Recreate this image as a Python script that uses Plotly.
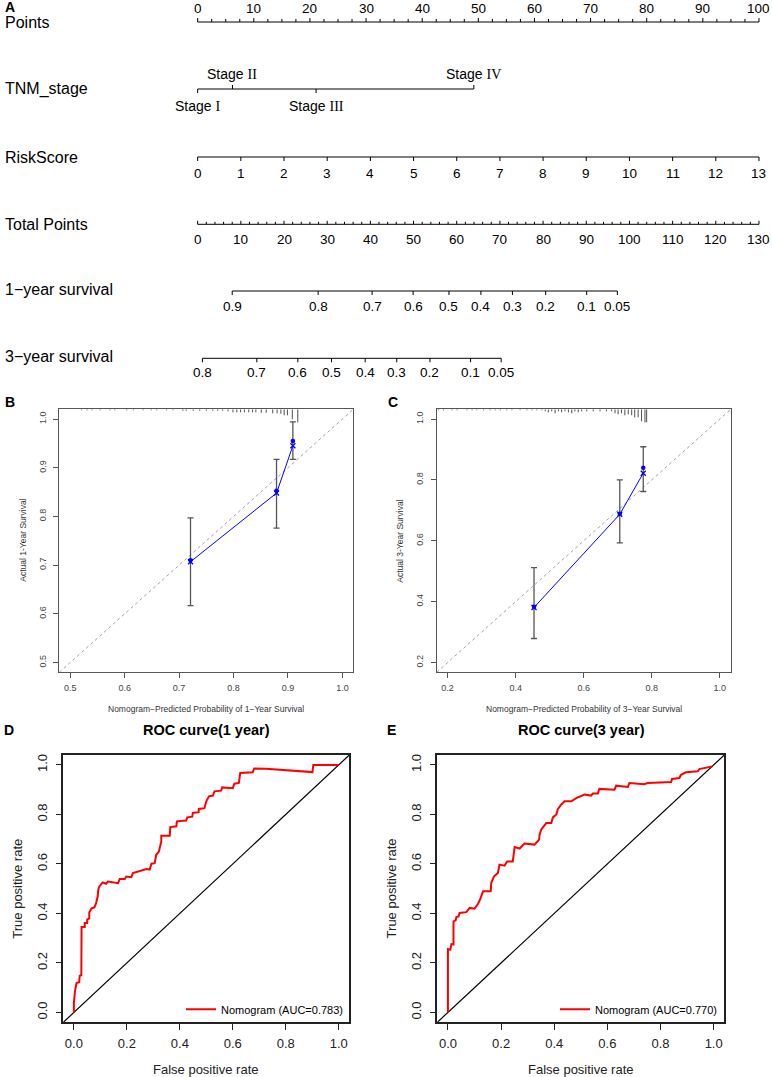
import numpy as np
import plotly.graph_objects as go

W, H = 772, 1077
SANS = "Liberation Sans, Arial, Helvetica, sans-serif"
SERIF_NAME = "Liberation Serif"


def px(x):
    return x / W


def py(y):
    return 1 - y / H


# ---------------- Panel A: nomogram data ----------------
points_labels = [0, 10, 20, 30, 40, 50, 60, 70, 80, 90, 100]
stage_names = ["I", "II", "III", "IV"]
stage_points = [0, 6.2, 21.1, 49.2]
riskscore_labels = [0, 1, 2, 3, 4, 5, 6, 7, 8, 9, 10, 11, 12, 13]
total_points_labels = [0, 10, 20, 30, 40, 50, 60, 70, 80, 90, 100, 110, 120, 130]
surv1_labels = ["0.9", "0.8", "0.7", "0.6", "0.5", "0.4", "0.3", "0.2", "0.1", "0.05"]
surv1_total = [8.0, 27.9, 40.4, 49.9, 58.2, 65.6, 72.9, 80.6, 90.1, 97.2]
surv3_labels = ["0.8", "0.7", "0.6", "0.5", "0.4", "0.3", "0.2", "0.1", "0.05"]
surv3_total = [1.1, 13.7, 23.2, 31.0, 38.8, 46.1, 53.8, 63.2, 70.3]
row_names = ["Points", "TNM_stage", "RiskScore", "Total Points",
             "1\u2212year survival", "3\u2212year survival"]

# ---------------- Panel B / C: calibration data ----------------
cal1_ticks = [0.5, 0.6, 0.7, 0.8, 0.9, 1.0]
cal1_pred = [0.721, 0.879, 0.909]
cal1_obs = [0.710, 0.853, 0.955]
cal1_corr = [0.707, 0.848, 0.945]
cal1_lo = [0.617, 0.776, 0.917]
cal1_hi = [0.797, 0.917, 0.994]
rug1_x = [0.521, 0.531, 0.540, 0.555, 0.573, 0.582, 0.604, 0.616, 0.634, 0.649,
          0.659, 0.677, 0.689, 0.707, 0.713, 0.726, 0.738, 0.750, 0.762, 0.771,
          0.780, 0.790, 0.799, 0.806, 0.813, 0.820, 0.828, 0.835, 0.841, 0.851,
          0.860, 0.872, 0.880, 0.887, 0.893, 0.899, 0.908, 0.918]
rug1_n = [1, 1, 1, 1, 1, 1, 1, 1, 1, 1,
          1, 1, 1, 1.5, 1.5, 1.5, 1.5, 1.5, 1.5, 1.5,
          1.5, 2, 3, 3, 3, 3, 3, 3, 3, 3.5,
          3.5, 4, 4, 4.5, 6, 6, 10, 13]

cal3_ticks = [0.2, 0.4, 0.6, 0.8, 1.0]
cal3_pred = [0.454, 0.706, 0.775]
cal3_obs = [0.383, 0.689, 0.840]
cal3_corr = [0.381, 0.687, 0.822]
cal3_lo = [0.279, 0.593, 0.762]
cal3_hi = [0.512, 0.800, 0.909]
rug3_x = [0.174, 0.188, 0.213, 0.228, 0.257, 0.272, 0.286, 0.306, 0.325, 0.340,
          0.355, 0.374, 0.389, 0.413, 0.433, 0.448, 0.462, 0.477, 0.487, 0.496,
          0.506, 0.516, 0.526, 0.535, 0.545, 0.555, 0.565, 0.574, 0.584, 0.594,
          0.609, 0.628, 0.648, 0.667, 0.682, 0.692, 0.701, 0.711, 0.721, 0.731,
          0.741, 0.750, 0.760, 0.770, 0.780, 0.785]
rug3_n = [1, 1, 1, 1, 1, 1, 1, 1, 1, 1,
          1, 1, 1, 1, 1, 1, 1, 1, 2, 3,
          2, 4, 2, 3, 2, 3, 4, 2, 3, 2,
          2, 2, 2, 2, 2, 4, 5, 4, 6, 5,
          6, 8, 8, 12, 13, 13]

# ---------------- Panel D / E: ROC data ----------------
roc_ticks = [0.0, 0.2, 0.4, 0.6, 0.8, 1.0]
roc1_fpr = [0, 0.0, 0.004, 0.010, 0.020, 0.022, 0.028, 0.028, 0.030, 0.029,
            0.041, 0.041, 0.050, 0.050, 0.058, 0.058, 0.066, 0.078, 0.084, 0.090,
            0.092, 0.096, 0.109, 0.122, 0.129, 0.167, 0.173, 0.192, 0.198, 0.217,
            0.223, 0.248, 0.261, 0.274, 0.286, 0.293, 0.305, 0.311, 0.321, 0.330,
            0.330, 0.362, 0.364, 0.387, 0.389, 0.424, 0.428, 0.447, 0.449, 0.471,
            0.472, 0.493, 0.500, 0.510, 0.525, 0.531, 0.556, 0.560, 0.600, 0.606,
            0.623, 0.628, 0.675, 0.681, 0.725, 0.901, 0.904, 1.0]
roc1_tpr = [0, 0.038, 0.085, 0.119, 0.122, 0.148, 0.150, 0.186, 0.190, 0.345,
            0.345, 0.361, 0.361, 0.375, 0.380, 0.404, 0.420, 0.425, 0.442, 0.469,
            0.496, 0.509, 0.525, 0.520, 0.529, 0.522, 0.539, 0.539, 0.549, 0.546,
            0.563, 0.570, 0.574, 0.579, 0.577, 0.601, 0.603, 0.637, 0.650, 0.691,
            0.714, 0.714, 0.749, 0.752, 0.772, 0.775, 0.788, 0.791, 0.806, 0.809,
            0.822, 0.825, 0.853, 0.873, 0.876, 0.893, 0.896, 0.909, 0.906, 0.924,
            0.927, 0.967, 0.970, 0.985, 0.984, 0.971, 1.0, 1.0]
roc3_fpr = [0, 0, 0.009, 0.013, 0.021, 0.021, 0.029, 0.032, 0.040, 0.044,
            0.069, 0.082, 0.100, 0.113, 0.123, 0.132, 0.161, 0.163, 0.173, 0.188,
            0.194, 0.213, 0.223, 0.244, 0.251, 0.270, 0.288, 0.326, 0.343, 0.345,
            0.351, 0.370, 0.389, 0.395, 0.408, 0.414, 0.426, 0.439, 0.464, 0.483,
            0.514, 0.539, 0.545, 0.564, 0.570, 0.627, 0.633, 0.677, 0.683, 0.739,
            0.752, 0.840, 0.843, 0.871, 0.877, 0.896, 0.940, 0.946, 0.996]
roc3_tpr = [0, 0.256, 0.253, 0.276, 0.274, 0.368, 0.372, 0.385, 0.388, 0.402,
            0.405, 0.422, 0.419, 0.438, 0.462, 0.489, 0.489, 0.523, 0.549, 0.563,
            0.597, 0.593, 0.610, 0.610, 0.668, 0.662, 0.682, 0.678, 0.698, 0.718,
            0.738, 0.765, 0.765, 0.788, 0.800, 0.822, 0.839, 0.853, 0.853, 0.866,
            0.880, 0.876, 0.884, 0.884, 0.903, 0.900, 0.916, 0.911, 0.927, 0.922,
            0.927, 0.931, 0.943, 0.947, 0.960, 0.970, 0.974, 0.983, 0.994]
roc1_name = "Nomogram (AUC=0.783)"
roc3_name = "Nomogram (AUC=0.770)"

# =====================================================================
fig = go.Figure()
ann = []


def label(x, y, text, size=13.5, xref="x", yref="y", color="black", bold=False,
          xanchor="center", yanchor="middle", **kw):
    if bold:
        text = "<b>" + text + "</b>"
    ann.append(dict(x=x, y=y, xref=xref, yref=yref, text=text, showarrow=False,
                    xanchor=xanchor, yanchor=yanchor,
                    font=dict(family=SANS, size=size, color=color), **kw))


# ---------------- Panel A (nomogram) ----------------
lx, ly = [], []


def seg(x0, y0, x1, y1):
    lx.extend([x0, x1, None])
    ly.extend([y0, y1, None])


RISK_SCALE = 100.0 / riskscore_labels[-1]
TOT_SCALE = 100.0 / total_points_labels[-1]
Y_PTS, Y_TNM, Y_RS, Y_TOT, Y_S1, Y_S3 = 22, 89, 157, 224.3, 291, 358.3
row_y = [22.7, 89, 157, 224.3, 289.3, 356]

# Points
seg(points_labels[0], Y_PTS, points_labels[-1], Y_PTS)
for v in np.arange(points_labels[0], points_labels[-1] + 0.01, 2.5):
    seg(v, Y_PTS, v, Y_PTS - (4 if abs(v % 10) < 1e-9 else 3))
for v in points_labels:
    label(v, 8, str(v))

# TNM stage
seg(min(stage_points), Y_TNM, max(stage_points), Y_TNM)
for i, (nm, p) in enumerate(zip(stage_names, stage_points)):
    above = i % 2 == 1
    seg(p, Y_TNM, p, Y_TNM + (-4 if above else 4))
    label(p, 74 if above else 106,
          "<span style='font-family:Liberation Sans'>Stage </span>"
          "<span style='font-family:%s'>%s</span>" % (SERIF_NAME, nm), size=14)

# RiskScore
seg(riskscore_labels[0] * RISK_SCALE, Y_RS, riskscore_labels[-1] * RISK_SCALE, Y_RS)
for r in riskscore_labels:
    p = r * RISK_SCALE
    seg(p, Y_RS, p, Y_RS + 4)
    label(p, 173, str(r))

# Total points
seg(0, Y_TOT, total_points_labels[-1] * TOT_SCALE, Y_TOT)
for t in np.arange(0, total_points_labels[-1] + 0.01, 2):
    p = t * TOT_SCALE
    major = abs(t % 10) < 1e-9
    seg(p, Y_TOT, p, Y_TOT - (3.5 if major else 2.5))
for t in total_points_labels:
    label(t * TOT_SCALE, 239, str(t))

# survival rows
for labs, tots, yy, ylab in [(surv1_labels, surv1_total, Y_S1, 306.7),
                             (surv3_labels, surv3_total, Y_S3, 372.5)]:
    seg(min(tots) * TOT_SCALE, yy, max(tots) * TOT_SCALE, yy)
    for lab, t in zip(labs, tots):
        p = t * TOT_SCALE
        seg(p, yy, p, yy + 4)
        label(p, ylab, lab)

for nm, yy in zip(row_names, row_y):
    label(px(3), yy, nm, size=16, xref="paper", xanchor="left")

fig.add_trace(go.Scatter(x=lx, y=ly, mode="lines", line=dict(color="black", width=1),
                         xaxis="x", yaxis="y", showlegend=False, hoverinfo="skip"))

# ---------------- Panels B / C (calibration) ----------------
def r_range(ticks):
    lo, hi = ticks[0], ticks[-1]
    d = 0.04 * (hi - lo)
    return [lo - d, hi + d]


CAL_H_PX = 672.3 - 409.3


def add_cal(xa, ya, ticks, pred, obs, corr, lo, hi, rugx, rugn):
    rng = r_range(ticks)
    fig.add_trace(go.Scatter(x=rng, y=rng, mode="lines",
                             line=dict(color="#8a8a8a", width=0.8, dash="dot"),
                             xaxis=xa, yaxis=ya, showlegend=False, hoverinfo="skip"))
    scale = (rng[1] - rng[0]) / CAL_H_PX
    rx, ry = [], []
    for xv, n in zip(rugx, rugn):
        rx.extend([xv, xv, None])
        ry.extend([rng[1], rng[1] - n * scale, None])
    fig.add_trace(go.Scatter(x=rx, y=ry, mode="lines", line=dict(color="#222", width=0.8),
                             xaxis=xa, yaxis=ya, showlegend=False, hoverinfo="skip"))
    fig.add_trace(go.Scatter(
        x=pred, y=obs, mode="markers",
        marker=dict(color="#0000ff", size=4.5, symbol="circle"),
        error_y=dict(type="data", symmetric=False,
                     array=[h - o for h, o in zip(hi, obs)],
                     arrayminus=[o - l for o, l in zip(obs, lo)],
                     color="#555", thickness=1.3, width=3),
        xaxis=xa, yaxis=ya, showlegend=False, hoverinfo="skip"))
    fig.add_trace(go.Scatter(x=pred, y=corr, mode="lines+markers",
                             line=dict(color="#0000ff", width=1),
                             marker=dict(color="#0000ff", size=5, symbol="x-thin",
                                         line=dict(color="#0000ff", width=1.3)),
                             xaxis=xa, yaxis=ya, showlegend=False, hoverinfo="skip"))
    return rng


rng1 = add_cal("x2", "y2", cal1_ticks, cal1_pred, cal1_obs, cal1_corr, cal1_lo, cal1_hi, rug1_x, rug1_n)
rng3 = add_cal("x3", "y3", cal3_ticks, cal3_pred, cal3_obs, cal3_corr, cal3_lo, cal3_hi, rug3_x, rug3_n)

# ---------------- Panels D / E (ROC) ----------------
roc_rng = r_range(roc_ticks)
for xa, ya, fpr, tpr, nm, lg in [("x4", "y4", roc1_fpr, roc1_tpr, roc1_name, "legend"),
                                 ("x5", "y5", roc3_fpr, roc3_tpr, roc3_name, "legend2")]:
    fig.add_trace(go.Scatter(x=roc_rng, y=roc_rng, mode="lines",
                             line=dict(color="black", width=1.2),
                             xaxis=xa, yaxis=ya, showlegend=False, hoverinfo="skip"))
    fig.add_trace(go.Scatter(x=fpr, y=tpr, mode="lines", name=nm,
                             line=dict(color="#ff0000", width=2),
                             xaxis=xa, yaxis=ya, showlegend=True, legend=lg))

# ---------------- axes ----------------
def cal_axis(domain, rng, ticks, anchor, is_y):
    d = dict(domain=domain, range=rng, anchor=anchor, tickvals=ticks, tickformat=".1f",
             ticks="outside", ticklen=5, tickwidth=1, tickcolor="#555",
             showline=True, mirror=True, linecolor="#555", linewidth=1,
             showgrid=False, zeroline=False,
             tickfont=dict(family=SANS, size=9, color="#444"))
    if is_y:
        d["tickangle"] = -90
        d["ticklabelstandoff"] = 4
    else:
        d["ticklabelstandoff"] = 2
    return d


def roc_axis(domain, anchor, is_y):
    d = dict(domain=domain, range=roc_rng, anchor=anchor, tickvals=roc_ticks, tickformat=".1f",
             ticks="outside", ticklen=6, tickwidth=1, tickcolor="#222",
             showline=True, mirror=True, linecolor="#222", linewidth=1.5,
             showgrid=False, zeroline=False,
             tickfont=dict(family=SANS, size=13, color="#222"))
    if is_y:
        d["tickangle"] = -90
        d["ticklabelstandoff"] = 3
    else:
        d["ticklabelstandoff"] = 2
    return d


CAL_Y = [py(672.3), py(409.3)]
ROC_Y = [py(1022.3), py(755)]

layout = dict(
    width=W, height=H, margin=dict(l=0, r=0, t=0, b=0),
    paper_bgcolor="white", plot_bgcolor="white",
    font=dict(family=SANS, color="black"),
    xaxis=dict(domain=[0, 1], range=[-197.67 / 5.613, (W - 197.67) / 5.613], visible=False,
               anchor="y"),
    yaxis=dict(domain=[py(385), 1], range=[385, 0], visible=False, anchor="x"),
    xaxis2=cal_axis([px(59.3), px(353.3)], rng1, cal1_ticks, "y2", False),
    yaxis2=cal_axis(CAL_Y, rng1, cal1_ticks, "x2", True),
    xaxis3=cal_axis([px(436.7), px(730.7)], rng3, cal3_ticks, "y3", False),
    yaxis3=cal_axis(CAL_Y, rng3, cal3_ticks, "x3", True),
    xaxis4=roc_axis([px(63.3), px(349.3)], "y4", False),
    yaxis4=roc_axis(ROC_Y, "x4", True),
    xaxis5=roc_axis([px(437.3), px(724.3)], "y5", False),
    yaxis5=roc_axis(ROC_Y, "x5", True),
    legend=dict(x=px(348), xanchor="right", y=py(1009.3), yanchor="middle",
                bgcolor="rgba(0,0,0,0)", font=dict(family=SANS, size=11, color="black"),
                itemwidth=30),
    legend2=dict(x=px(722), xanchor="right", y=py(1009.3), yanchor="middle",
                 bgcolor="rgba(0,0,0,0)", font=dict(family=SANS, size=11, color="black"),
                 itemwidth=30),
)

# ---------------- text: panel letters, titles, axis titles ----------------
P = "paper"
label(px(3), py(7), "A", size=14, xref=P, yref=P, bold=True, xanchor="left")
label(px(3), py(402), "B", size=14, xref=P, yref=P, bold=True, xanchor="left")
label(px(386), py(402), "C", size=14, xref=P, yref=P, bold=True, xanchor="left")
label(px(2), py(730), "D", size=14, xref=P, yref=P, bold=True, xanchor="left")
label(px(385), py(730), "E", size=14, xref=P, yref=P, bold=True, xanchor="left")

label(px(23), py(540.7), "Actual 1-Year Survival", size=8.5, xref=P, yref=P, textangle=-90, color="#333")
label(px(206.3), py(709), "Nomogram\u2212Predicted Probability of 1\u2212Year Survival", size=8.5,
      xref=P, yref=P, color="#333")
label(px(400), py(540.7), "Actual 3-Year Survival", size=8.5, xref=P, yref=P, textangle=-90, color="#333")
label(px(583.7), py(709), "Nomogram\u2212Predicted Probability of 3\u2212Year Survival", size=8.5,
      xref=P, yref=P, color="#333")

label(px(206.3), py(730), "ROC curve(1 year)", size=14.5, xref=P, yref=P, bold=True)
label(px(581.3), py(730), "ROC curve(3 year)", size=14.5, xref=P, yref=P, bold=True)
label(px(18), py(888.7), "True positive rate", size=13, xref=P, yref=P, textangle=-90, color="#222")
label(px(206.3), py(1069), "False positive rate", size=13, xref=P, yref=P, color="#222")
label(px(391.7), py(888.7), "True positive rate", size=13, xref=P, yref=P, textangle=-90, color="#222")
label(px(580.8), py(1069), "False positive rate", size=13, xref=P, yref=P, color="#222")

layout["annotations"] = ann
fig.update_layout(**layout)
fig.write_html("out.html", config={"displayModeBar": False},
               post_script="document.body.style.margin='0';document.body.style.overflow='hidden';")
